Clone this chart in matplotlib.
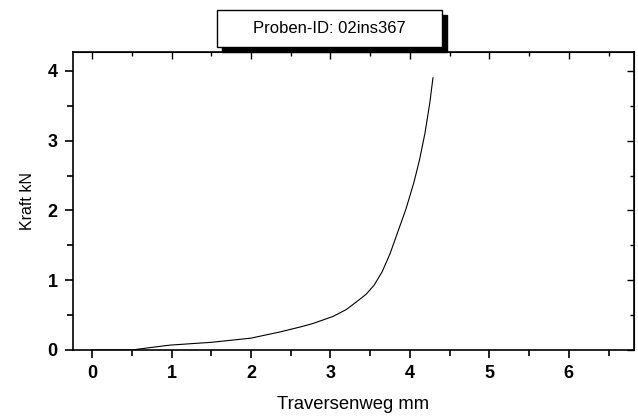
import matplotlib.pyplot as plt
from matplotlib.ticker import MultipleLocator
from matplotlib.patches import Rectangle

plt.rcParams['font.family'] = ['Liberation Sans', 'DejaVu Sans']

# Traversenweg (mm) und Kraft (kN)
weg = [0.0, 0.5, 0.7, 0.98, 1.5, 2.0, 2.37, 2.62, 2.78, 3.03, 3.2, 3.35, 3.45,
       3.55, 3.65, 3.75, 3.85, 3.95, 4.05, 4.12, 4.19, 4.25, 4.29]
kraft = [0.0, 0.0, 0.03, 0.07, 0.11, 0.17, 0.26, 0.33, 0.38, 0.48, 0.58, 0.71, 0.80,
         0.93, 1.12, 1.38, 1.70, 2.02, 2.40, 2.72, 3.11, 3.54, 3.9]
titel = 'Proben-ID: 02ins367'

fig = plt.figure(figsize=(6.38, 4.18), dpi=100)
ax = fig.add_axes([73/638, 68/418, 561/638, 298/418])
ax.plot(weg, kraft, color='black', lw=0.8)

ax.set_xlim(-0.24, 6.82)
ax.set_ylim(0, 4.27)
ax.xaxis.set_major_locator(MultipleLocator(1))
ax.xaxis.set_minor_locator(MultipleLocator(0.5))
ax.yaxis.set_major_locator(MultipleLocator(1))
ax.yaxis.set_minor_locator(MultipleLocator(0.5))
for s in ax.spines.values():
    s.set_linewidth(1.2)

ax.tick_params(which='both', direction='out', bottom=True, left=True,
               top=False, right=False, width=1.2)
ax.tick_params(which='major', length=6, labelsize=13, pad=5)
ax.tick_params(which='minor', length=4)
for lab in ax.get_xticklabels() + ax.get_yticklabels():
    lab.set_fontweight('bold')

# innen liegende Striche oben und rechts
ax2 = ax.secondary_xaxis('top')
ax2.xaxis.set_major_locator(MultipleLocator(1))
ax2.xaxis.set_minor_locator(MultipleLocator(0.5))
ax2.tick_params(which='both', direction='in', labeltop=False, width=1.0)
ax2.tick_params(which='major', length=5)
ax2.tick_params(which='minor', length=3)
ay2 = ax.secondary_yaxis('right')
ay2.yaxis.set_major_locator(MultipleLocator(1))
ay2.yaxis.set_minor_locator(MultipleLocator(0.5))
ay2.tick_params(which='both', direction='in', labelright=False, width=1.0)
ay2.tick_params(which='major', length=5)
ay2.tick_params(which='minor', length=3)

ax.set_xlabel('Traversenweg mm', fontsize=13.3, labelpad=10)
ax.set_ylabel('Kraft kN', fontsize=11.5, labelpad=9)

# Titelkasten mit Schatten
fig.patches.append(Rectangle((222/638, (418-52)/418), 225/638, 37/418,
                             transform=fig.transFigure, facecolor='black',
                             edgecolor='black', zorder=3))
fig.patches.append(Rectangle((217/638, (418-47)/418), 225/638, 37/418,
                             transform=fig.transFigure, facecolor='white',
                             edgecolor='black', lw=1.0, zorder=4))
fig.text(329.5/638, (418-28.5)/418, titel, ha='center', va='center',
         fontsize=12, zorder=5)

fig.savefig('out.png', dpi=100)
